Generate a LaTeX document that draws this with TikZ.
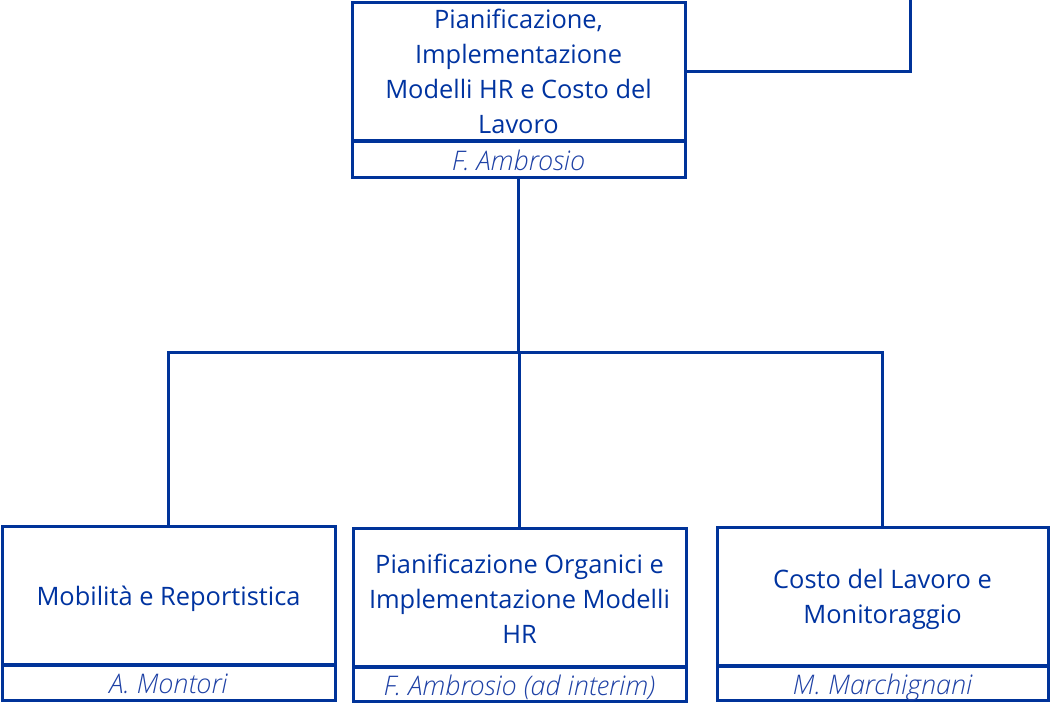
\documentclass[tikz,border=0pt]{standalone}
\usepackage{fontspec}
\setmainfont{Open Sans}
\newfontfamily\lightit{Open Sans Light Italic}
\definecolor{bl}{RGB}{0,51,153}
\definecolor{tx}{RGB}{0,51,160}
\definecolor{nm}{RGB}{30,65,165}
\tikzset{
  unitbox/.style={draw=bl, line width=3pt, inner sep=0pt, outer sep=0pt, anchor=north west},
  unittext/.style={inner sep=0pt, align=center, text=tx, font=\fontsize{25.4}{35}\selectfont},
  namebox/.style={draw=bl, line width=3pt, inner sep=0pt, outer sep=0pt, align=center, text=nm,
    font=\fontsize{27}{30}\selectfont\lightit, text height=28pt, text depth=6pt, anchor=north west},
  conn/.style={draw=bl, line width=3pt, line join=miter}
}
\begin{document}
\begin{tikzpicture}[x=1pt,y=-1pt]
\useasboundingbox (0,0) rectangle (1050,702);
% top unit
\node[unitbox, minimum width=333pt, minimum height=138pt] (t) at (352,2) {};
\node[unittext] (tt) at (t.center)
  {Pianificazione,\\Implementazione\\Modelli HR e Costo del\\Lavoro};
\node[namebox, minimum width=333pt, minimum height=36pt] (tn) at (352,141) {F. Ambrosio};
% bottom units
\node[unitbox, minimum width=333pt, minimum height=138pt] (b1) at (2,526) {};
\node[unittext, yshift=-4pt] (b1t) at (b1.center) {Mobilità e Reportistica};
\node[namebox, minimum width=333pt, minimum height=35pt] (b1n) at (2,665) {A. Montori};
\node[unitbox, minimum width=333pt, minimum height=138pt] (b2) at (353,528) {};
\node[unittext, yshift=-1.5pt] (b2t) at (b2.center)
  {Pianificazione Organici e\\Implementazione Modelli\\HR};
\node[namebox, minimum width=333pt, minimum height=33pt] (b2n) at (353,667) {F. Ambrosio (ad interim)};
\node[unitbox, minimum width=331pt, minimum height=138pt] (b3) at (717,527) {};
\node[unittext, yshift=-3pt] (b3t) at (b3.center) {Costo del Lavoro e\\Monitoraggio};
\node[namebox, minimum width=331pt, minimum height=34pt] (b3n) at (717,666) {M. Marchignani};
% connectors
\coordinate (bus) at (518.5,352);
\coordinate (up) at (910,0);
\draw[conn] (t.east) -| (up);
\draw[conn] (tn.south) -- (bus);
\draw[conn] (b1.north) |- (bus) -| (b3.north);
\draw[conn] (b2.north |- bus) -- (b2.north);
\end{tikzpicture}
\end{document}
